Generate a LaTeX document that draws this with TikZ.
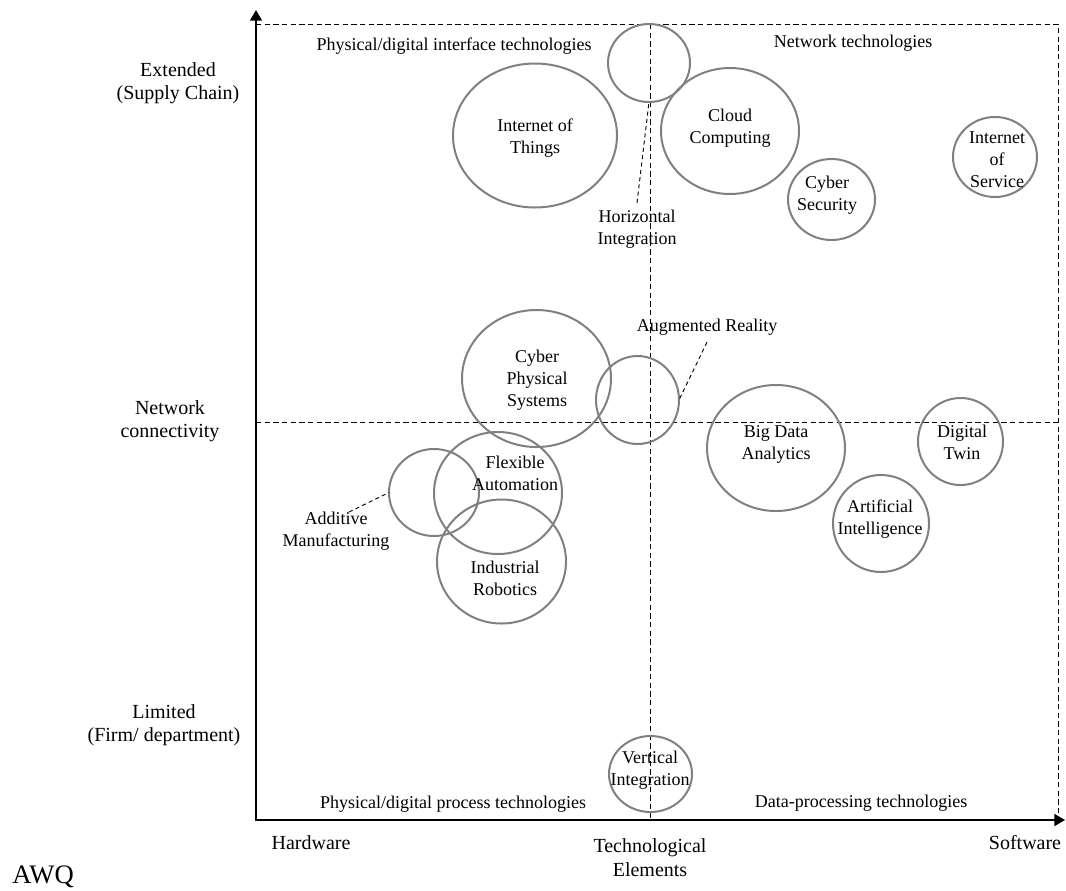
\documentclass[tikz,border=0pt]{standalone}
\usepackage{fontspec}
\setmainfont{Liberation Serif}
\usetikzlibrary{shapes.geometric,arrows.meta}
\definecolor{bubgray}{RGB}{128,128,128}

% technology bubble: name, centre x, centre y, half width, half height (in px units)
\newcommand\techbubble[5]{%
  \node[bub, minimum width=#4*1.5pt, minimum height=#5*1.5pt] (#1) at (#2,#3) {};}

\begin{document}
\begin{tikzpicture}[x=0.75pt, y=-0.75pt,
  bub/.style={ellipse, draw=bubgray, line width=1.5pt, inner sep=0pt, outer sep=0pt},
  lbl/.style={font=\fontsize{13.5}{16.5}\selectfont, align=center, inner sep=0pt},
  axlbl/.style={font=\fontsize{15}{17.5}\selectfont, align=center, inner sep=0pt},
  gridline/.style={dash pattern=on 4pt off 2.5pt, line width=0.75pt},
  leader/.style={dash pattern=on 3pt off 2.5pt, line width=0.7pt},
  axisline/.style={line width=1.1pt,
    {Triangle[length=8pt,width=9pt]}-{Triangle[length=8pt,width=9pt]}}]
\useasboundingbox (0,0) rectangle (1066,890);

% quadrant frame
\coordinate (topL) at (256,24);
\coordinate (topR) at (1058,24);
\coordinate (botR) at (1058,820);
\coordinate (midL) at (256,422);
\coordinate (midR) at (1058,422);
\coordinate (midT) at (650,24);
\coordinate (midB) at (650,820);
\draw[gridline] (topL) -- (topR) -- (botR);
\draw[gridline] (midL) -- (midR);
\draw[gridline] (midT) -- (midB);

% axes
\coordinate (yTip) at (256,10);
\coordinate (xTip) at (1065,820);
\draw[axisline] (yTip) |- (xTip);

% bubbles
\techbubble{hi}{649}{63}{41}{39}
\techbubble{iot}{535}{135.5}{82}{72}
\techbubble{cc}{730}{131}{69}{63}
\techbubble{cs}{831.5}{199.5}{43.5}{40.5}
\techbubble{ios}{995}{157}{42}{40}
\techbubble{cps}{536.5}{378.5}{74.5}{68.5}
\techbubble{ar}{637.5}{400}{41.5}{44}
\techbubble{fa}{498}{493}{64}{61}
\techbubble{am}{434}{492.5}{45}{43.5}
\techbubble{ir}{501.5}{561.5}{64.5}{62}
\techbubble{bda}{776}{448}{69}{63}
\techbubble{dt}{960.5}{441.5}{42.5}{43.5}
\techbubble{ai}{881}{523.5}{48}{48.5}
\techbubble{vi}{650.5}{774}{41.5}{38}

% bubble texts
\node[lbl] (tIoT) at (535,138) {Internet of\\Things};
\node[lbl] (tCC) at (730,128) {Cloud\\Computing};
\node[lbl] (tCS) at (827,195) {Cyber\\Security};
\node[lbl] (tIoS) at (997,160) {Internet\\of\\Service};
\node[lbl] (tHI) at (637,229) {Horizontal\\Integration};
\node[lbl] (tCPS) at (537,380) {Cyber\\Physical\\Systems};
\node[lbl] (tAR) at (707,327) {Augmented Reality};
\node[lbl] (tFA) at (515,473) {Flexible\\Automation};
\node[lbl] (tIR) at (505,578.5) {Industrial\\Robotics};
\node[lbl] (tAM) at (336,531.5) {Additive\\Manufacturing};
\node[lbl] (tBDA) at (776,444) {Big Data\\Analytics};
\node[lbl] (tDT) at (962,442) {Digital\\Twin};
\node[lbl] (tAI) at (880,519.5) {Artificial\\Intelligence};
\node[lbl] (tVI) at (650,770) {Vertical\\Integration};

% leaders from labels to their bubbles
\draw[leader] ([yshift=5pt]tHI.north) -- (hi.south);
\draw[leader] ([yshift=-5pt]tAR.south) -- (ar.east);
\draw[leader] ([xshift=9.75pt]tAM.north) -- (am.west);

% quadrant titles
\node[lbl] (qTL) at (454,46) {Physical/digital interface technologies};
\node[lbl] (qTR) at (853,43) {Network technologies};
\node[lbl] (qBL) at (453,804) {Physical/digital process technologies};
\node[lbl] (qBR) at (861,803) {Data-processing technologies};

% axis labels
\node[axlbl] (xHw) at (311,843) {Hardware};
\node[axlbl] (xTe) at (650,857.5) {Technological\\Elements};
\node[axlbl] (xSw) at (1025,843) {Software};
\node[axlbl] (yExt) at (178,83) {Extended\\(Supply Chain)};
\node[axlbl] (yNet) at (170,421.5) {Network\\connectivity};
\node[axlbl] (yLim) at (164,725) {Limited\\(Firm/ department)};

\node[font=\fontsize{20}{24}\selectfont, inner sep=0pt, anchor=base west] (awq) at (12,883) {AWQ};
\end{tikzpicture}
\end{document}
